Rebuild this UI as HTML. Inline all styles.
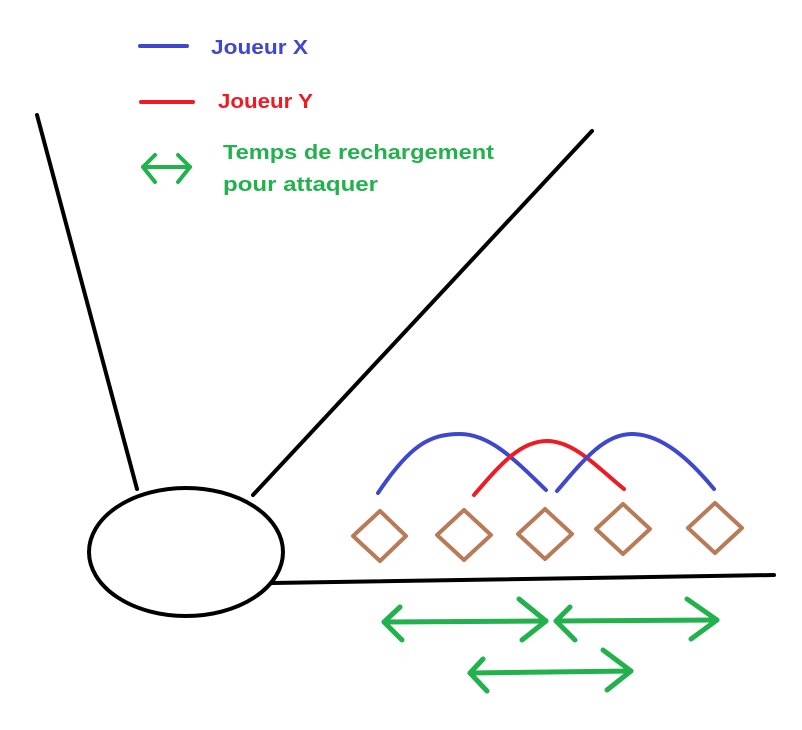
<!DOCTYPE html>
<html><head><meta charset="utf-8"><style>
html,body{margin:0;padding:0;background:#fff;}
svg{display:block}
text{font-family:"Liberation Sans",sans-serif;font-weight:bold;font-size:20px}
</style></head><body>
<svg width="802" height="730" viewBox="0 0 802 730" xmlns="http://www.w3.org/2000/svg">
<rect width="802" height="730" fill="#fff"/>
<g stroke-linecap="round" stroke-linejoin="round" fill="none">
<line x1="140" y1="46" x2="187" y2="46" stroke="#3f48cc" stroke-width="4"/>
<line x1="141" y1="102" x2="193" y2="102" stroke="#ed1c24" stroke-width="4"/>
<g stroke="#22b14c" stroke-width="4">
<line x1="143" y1="167" x2="190" y2="167"/>
<polyline points="155,155 143,167 155,182"/>
<polyline points="178,155 190,167 178,182"/>
</g>
<g stroke="#000" stroke-width="4">
<line x1="37" y1="115" x2="137" y2="489"/>
<line x1="253" y1="495" x2="592" y2="131"/>
<line x1="272" y1="583" x2="774" y2="575"/>
<ellipse cx="186" cy="552" rx="97" ry="64"/>
</g>
<g stroke-width="4">
<path d="M378,493 C410,445 430,434 460,434 C490,434 515,460 546,490" stroke="#3f48cc"/>
<path d="M474,495 C500,465 520,441 547,441 C575,441 600,470 624,489" stroke="#ed1c24"/>
<path d="M557,491 C585,458 605,434 632,434 C662,434 690,460 714,489" stroke="#3f48cc"/>
</g>
<g stroke="#b97a57" stroke-width="4">
<polygon points="380,511 406,536 380,561 353,536"/>
<polygon points="464,510 491,535 464,560 437,535"/>
<polygon points="545,509 572,534 545,559 518,534"/>
<polygon points="623,504 650,529 623,554 596,529"/>
<polygon points="715,503 742,528 715,553 688,528"/>
</g>
<g stroke="#22b14c" stroke-width="5">
<line x1="384" y1="622" x2="546" y2="621"/>
<polyline points="400,607 384,622 402,640"/>
<polyline points="519,599 546,621 522,640"/>
<line x1="556" y1="621" x2="717" y2="620"/>
<polyline points="570,607 556,621 575,640"/>
<polyline points="687,599 717,620 691,639"/>
<line x1="470" y1="673" x2="631" y2="671"/>
<polyline points="483,659 470,673 487,691"/>
<polyline points="603,650 631,671 607,690"/>
</g>
</g>
<text x="211" y="54" fill="#3f48cc" textLength="97" lengthAdjust="spacingAndGlyphs">Joueur X</text>
<text x="218" y="108" fill="#ed1c24" textLength="95" lengthAdjust="spacingAndGlyphs">Joueur Y</text>
<text x="223" y="159" fill="#22b14c" textLength="271" lengthAdjust="spacingAndGlyphs">Temps de rechargement</text>
<text x="223" y="191" fill="#22b14c" textLength="155" lengthAdjust="spacingAndGlyphs">pour attaquer</text>
</svg>
</body></html>
